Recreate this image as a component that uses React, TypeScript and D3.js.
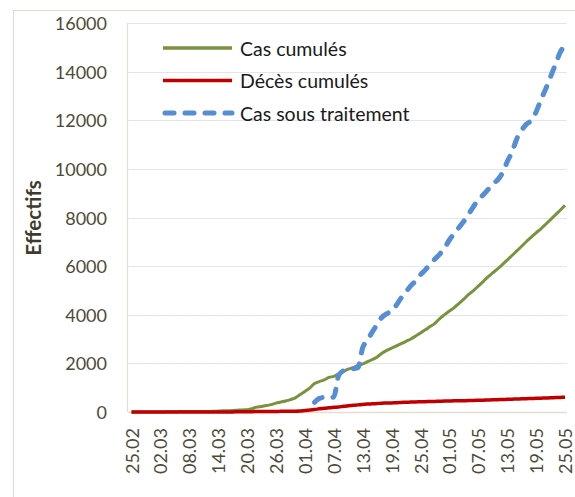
import React from "react";
import * as d3 from "d3";

const tickLabels = ["25.02","02.03","08.03","14.03","20.03","26.03","01.04","07.04","13.04","19.04","25.04","01.05","07.05","13.05","19.05","25.05"];
const yTicks = [0, 2000, 4000, 6000, 8000, 10000, 12000, 14000, 16000];

// daily values from 25.02 (index 0) to 25.05 (index 90)
const casCumules = [1,1,1,1,1,1,3,5,12,12,17,17,19,20,20,20,24,26,37,48,54,60,74,87,90,139,201,230,264,302,367,409,454,511,584,716,847,986,1171,1251,1320,1423,1468,1572,1666,1761,1825,1914,1983,2070,2160,2268,2418,2534,2629,2718,2811,2910,3007,3127,3256,3382,3517,3649,3848,4006,4154,4295,4474,4648,4838,4997,5182,5369,5558,5723,5891,6067,6253,6442,6629,6821,7019,7201,7377,7542,7728,7918,8113,8306,8503];
const decesCumules = [0,0,0,0,0,0,0,0,0,0,0,0,0,0,0,0,1,2,3,4,4,4,7,9,11,15,17,17,19,21,25,26,29,31,35,44,58,86,105,130,152,173,193,205,235,256,275,293,313,326,336,348,364,367,375,384,392,402,407,415,419,425,432,437,444,450,453,459,463,465,470,476,483,488,494,502,507,515,522,529,536,542,548,555,561,568,575,582,592,600,609];
const traitementStart = 38;
const casSousTraitement = [400,560,600,580,620,1500,1700,1750,1780,1820,2650,2950,3300,3600,3900,4050,4150,4400,4700,4950,5200,5400,5650,5850,6080,6300,6500,6750,7080,7350,7600,7850,8150,8450,8750,8930,9150,9400,9550,9840,10300,10700,11250,11600,11850,12000,12350,12850,13300,13800,14300,14800,15100];

const seriesNames = ["Cas cumulés", "Décès cumulés", "Cas sous traitement"];

const W = 575, H = 497;
const FONT = "Lato, 'Open Sans', sans-serif";

export default function App() {
  const x = d3.scaleLinear().domain([0, 90]).range([131.5, 565]);
  const y = d3.scaleLinear().domain([0, 16000]).range([412, 23.3]);
  const line = d3.line<[number, number]>().x(d => x(d[0])).y(d => y(d[1])).curve(d3.curveMonotoneX);

  const green = casCumules.map((v, i) => [i, v] as [number, number]);
  const red = decesCumules.map((v, i) => [i, v] as [number, number]);
  const blue = casSousTraitement.map((v, i) => [i + traitementStart, v] as [number, number]);

  const colors = ["#77933c", "#c00000", "#558ed5"];
  const legendY = [48, 80.5, 113];

  return (
    <svg width={W} height={H} style={{ position: "absolute", left: 0, top: 0, background: "#fff" }} fontFamily={FONT}>
      <rect x={0} y={0} width={W} height={H} fill="#fff" />
      <rect x={13.5} y={10.5} width={W} height={H} fill="none" stroke="#dedbcc" strokeWidth={1} />
      {yTicks.filter(t => t > 0).map(t => (
        <line key={t} x1={128} x2={567} y1={Math.round(y(t)) + 0.5} y2={Math.round(y(t)) + 0.5} stroke="#e4e4ee" strokeWidth={1.2} />
      ))}
      <line x1={127.5} x2={127.5} y1={y(16000)} y2={y(0)} stroke="#e2dfd2" strokeWidth={1.2} />
      <line x1={128} x2={567} y1={412.5} y2={412.5} stroke="#e2dfd2" strokeWidth={1.5} />
      {yTicks.map(t => (
        <text key={t} x={107} y={y(t)} textAnchor="end" dominantBaseline="central" fontSize={18} fill="#4f4a38">{t}</text>
      ))}
      {tickLabels.map((lab, i) => (
        <text key={lab} transform={`translate(${x(i * 6)},428) rotate(-90)`} textAnchor="end" dominantBaseline="central" fontSize={18} fill="#4f4a38">{lab}</text>
      ))}
      <text transform="translate(33,218) rotate(-90)" textAnchor="middle" dominantBaseline="central" fontSize={20.5} fontWeight="bold" fill="#3f3b2c">Effectifs</text>
      <path d={line(green) || ""} fill="none" stroke={colors[0]} strokeWidth={3} strokeLinejoin="round" />
      <path d={line(red) || ""} fill="none" stroke={colors[1]} strokeWidth={3.5} strokeLinejoin="round" />
      <path d={line(blue) || ""} fill="none" stroke={colors[2]} strokeWidth={5} strokeLinecap="round" strokeLinejoin="round" strokeDasharray="9 11" />
      {seriesNames.map((n, i) => (
        <g key={n}>
          <line x1={i === 2 ? 165 : 163} x2={232} y1={legendY[i]} y2={legendY[i]} stroke={colors[i]} strokeWidth={i === 2 ? 5 : 3.5} strokeLinecap={i === 2 ? "round" : "butt"} strokeDasharray={i === 2 ? "9 11" : undefined} />
          <text x={240} y={legendY[i]} dominantBaseline="central" fontSize={19.5} fill="#1a1a1a">{n}</text>
        </g>
      ))}
    </svg>
  );
}
